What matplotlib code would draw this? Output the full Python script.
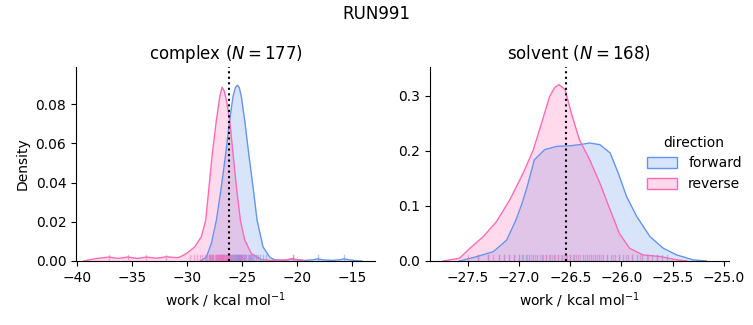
import matplotlib
matplotlib.use("Agg")
import matplotlib.pyplot as plt
from matplotlib.patches import Patch
from matplotlib.colors import to_rgba

# colours per direction
fwd_color = "cornflowerblue"
rev_color = "hotpink"

# complex leg: density curves (work, density)
cx_fwd_x = [-28.8, -28.24, -27.79, -27.33, -26.88, -26.48, -26.12, -25.82, -25.6, -25.42, -25.25,
            -25.06, -24.76, -24.39, -24.0, -23.63, -23.09, -22.48, -22.05, -21.2, -20.7, -20.4,
            -20.1, -19.2, -18.5, -18.1, -17.7, -16.8, -16.1, -15.7, -15.3, -14.6, -14.1]
cx_fwd_y = [0.0, 0.002, 0.0089, 0.0208, 0.0378, 0.0548, 0.0719, 0.0838, 0.0885, 0.0897, 0.0885,
            0.0838, 0.0719, 0.0548, 0.0378, 0.0208, 0.0072, 0.002, 0.0006, 0.0003, 0.0008, 0.0011,
            0.0007, 0.0003, 0.0006, 0.0011, 0.0006, 0.0003, 0.0006, 0.0011, 0.0006, 0.0002, 0.0]
cx_rev_x = [-39.4, -38.3, -37.1, -36.3, -35.4, -34.5, -33.7, -32.8, -31.9, -30.9, -30.66, -30.05,
            -29.3, -28.7, -28.3, -28.0, -27.7, -27.33, -27.0, -26.82, -26.62, -26.42, -26.12,
            -25.82, -25.51, -25.15, -24.75, -24.15, -23.24, -22.3, -21.3, -20.4, -19.8, -19.2]
cx_rev_y = [0.0, 0.0012, 0.0020, 0.0013, 0.0020, 0.0013, 0.0020, 0.0014, 0.0021, 0.0017, 0.002, 0.0038,
            0.0072, 0.0123, 0.0208, 0.0378, 0.0548, 0.0719, 0.0845, 0.0886, 0.0868, 0.082, 0.0719,
            0.0548, 0.0378, 0.0208, 0.0106, 0.0038, 0.0007, 0.0003, 0.0004, 0.0010, 0.0004, 0.0]

# solvent leg
sv_fwd_x = [-27.58, -27.41, -27.25, -27.12, -27.03, -26.97, -26.92, -26.85, -26.75, -26.63, -26.5,
            -26.41, -26.31, -26.21, -26.11, -26.03, -25.95, -25.85, -25.72, -25.59, -25.46, -25.3,
            -25.17]
sv_fwd_y = [0.0, 0.008, 0.017, 0.038, 0.0745, 0.105, 0.135, 0.1836, 0.202, 0.208, 0.209,
            0.211, 0.214, 0.211, 0.196, 0.159, 0.117, 0.0806, 0.044, 0.023, 0.011, 0.002,
            0.0]
sv_rev_x = [-27.74, -27.58, -27.48, -27.35, -27.22, -27.09, -26.96, -26.86, -26.78, -26.7, -26.65,
            -26.61, -26.55, -26.49, -26.41, -26.31, -26.21, -26.11, -26.02, -25.92, -25.79, -25.62,
            -25.46, -25.36]
sv_rev_y = [0.0, 0.005, 0.023, 0.044, 0.0715, 0.111, 0.159, 0.202, 0.250, 0.299, 0.315,
            0.320, 0.311, 0.2685, 0.220, 0.1836, 0.141, 0.0927, 0.050, 0.023, 0.011, 0.008,
            0.002, 0.0]

# individual work values (rug)
cx_fwd_rug = [-28.3, -28.0, -27.9, -27.7, -27.6, -27.4, -27.3, -27.1, -27.0, -26.9, -26.8, -26.7,
              -26.6, -26.5, -26.4, -26.3, -26.2, -26.1, -26.0, -25.9, -25.8, -25.7, -25.65, -25.6,
              -25.55, -25.5, -25.45, -25.4, -25.35, -25.3, -25.25, -25.2, -25.15, -25.1, -25.05,
              -25.0, -24.9, -24.8, -24.7, -24.6, -24.5, -24.4, -24.3, -24.2, -24.1, -23.9, -23.7,
              -23.5, -23.4, -23.1, -22.8, -20.4, -18.1, -15.7]
cx_rev_rug = [-37.1, -35.4, -33.7, -31.9, -29.7, -29.4, -29.1, -28.8, -28.6, -28.4, -28.2, -28.0,
              -27.9, -27.8, -27.7, -27.6, -27.5, -27.4, -27.3, -27.2, -27.15, -27.1, -27.05,
              -27.0, -26.95, -26.9, -26.85, -26.8, -26.75, -26.7, -26.65, -26.6, -26.55, -26.5,
              -26.45, -26.4, -26.3, -26.2, -26.1, -26.0, -25.9, -25.8, -25.6, -25.4, -25.2, -25.0,
              -24.8, -24.6, -24.3, -24.0, -23.7, -20.4]
sv_fwd_rug = [-27.4, -27.3, -27.2, -27.15, -27.1, -27.05, -27.0, -26.97, -26.93, -26.9, -26.86,
              -26.82, -26.78, -26.74, -26.7, -26.66, -26.62, -26.58, -26.54, -26.5, -26.46, -26.42,
              -26.38, -26.34, -26.3, -26.26, -26.22, -26.18, -26.14, -26.1, -26.06, -26.02, -25.98,
              -25.94, -25.9, -25.85, -25.8, -25.75, -25.7, -25.65, -25.6, -25.55]
sv_rev_rug = [-27.5, -27.4, -27.3, -27.25, -27.2, -27.15, -27.1, -27.05, -27.0, -26.96, -26.92,
              -26.88, -26.84, -26.8, -26.77, -26.74, -26.71, -26.68, -26.65, -26.62, -26.59,
              -26.56, -26.53, -26.5, -26.47, -26.44, -26.4, -26.36, -26.32, -26.28, -26.24, -26.2,
              -26.14, -26.08, -26.02, -25.96, -25.9, -25.82, -25.74, -25.65]

panels = [
    ("complex ($N = 177$)", cx_fwd_x, cx_fwd_y, cx_rev_x, cx_rev_y, cx_fwd_rug, cx_rev_rug, -26.21,
     (-40.1, -12.9), (0, 0.099), [-40, -35, -30, -25, -20, -15], [0.0, 0.02, 0.04, 0.06, 0.08]),
    ("solvent ($N = 168$)", sv_fwd_x, sv_fwd_y, sv_rev_x, sv_rev_y, sv_fwd_rug, sv_rev_rug, -26.54,
     (-27.87, -24.95), (0, 0.352), [-27.5, -27.0, -26.5, -26.0, -25.5, -25.0], [0.0, 0.1, 0.2, 0.3]),
]

fig = plt.figure(figsize=(7.53, 3.25), dpi=100)
fig.suptitle("RUN991", fontsize=12, y=0.985)
axes = [fig.add_axes([0.101, 0.197, 0.397, 0.597]),
        fig.add_axes([0.571, 0.197, 0.397, 0.597])]

for ax, (title, fx, fy, rx, ry, frug, rrug, dg, xl, yl, xt, yt) in zip(axes, panels):
    ax.fill_between(fx, fy, color=fwd_color, alpha=0.25, lw=0)
    ax.plot(fx, fy, color=fwd_color, lw=1)
    ax.fill_between(rx, ry, color=rev_color, alpha=0.25, lw=0)
    ax.plot(rx, ry, color=rev_color, lw=1)
    for v in frug:
        ax.axvline(v, ymin=0, ymax=0.03, color=fwd_color, alpha=0.5, lw=1)
    for v in rrug:
        ax.axvline(v, ymin=0, ymax=0.03, color=rev_color, alpha=0.5, lw=1)
    ax.axvline(dg, color="black", ls=":", lw=1.5)
    ax.set_xlim(*xl)
    ax.set_ylim(*yl)
    ax.set_xticks(xt)
    ax.set_yticks(yt)
    ax.set_title(title, fontsize=12)
    ax.set_xlabel("work / kcal mol$^{-1}$")
    ax.spines["top"].set_visible(False)
    ax.spines["right"].set_visible(False)

axes[0].set_ylabel("Density")

handles = [Patch(facecolor=to_rgba(fwd_color, 0.25), edgecolor=fwd_color, label="forward"),
           Patch(facecolor=to_rgba(rev_color, 0.25), edgecolor=rev_color, label="reverse")]
fig.legend(handles=handles, title="direction", frameon=False, loc="center left",
           bbox_to_anchor=(0.842, 0.497), handlelength=2.2, handleheight=0.8)

fig.savefig("out.png", dpi=100)
